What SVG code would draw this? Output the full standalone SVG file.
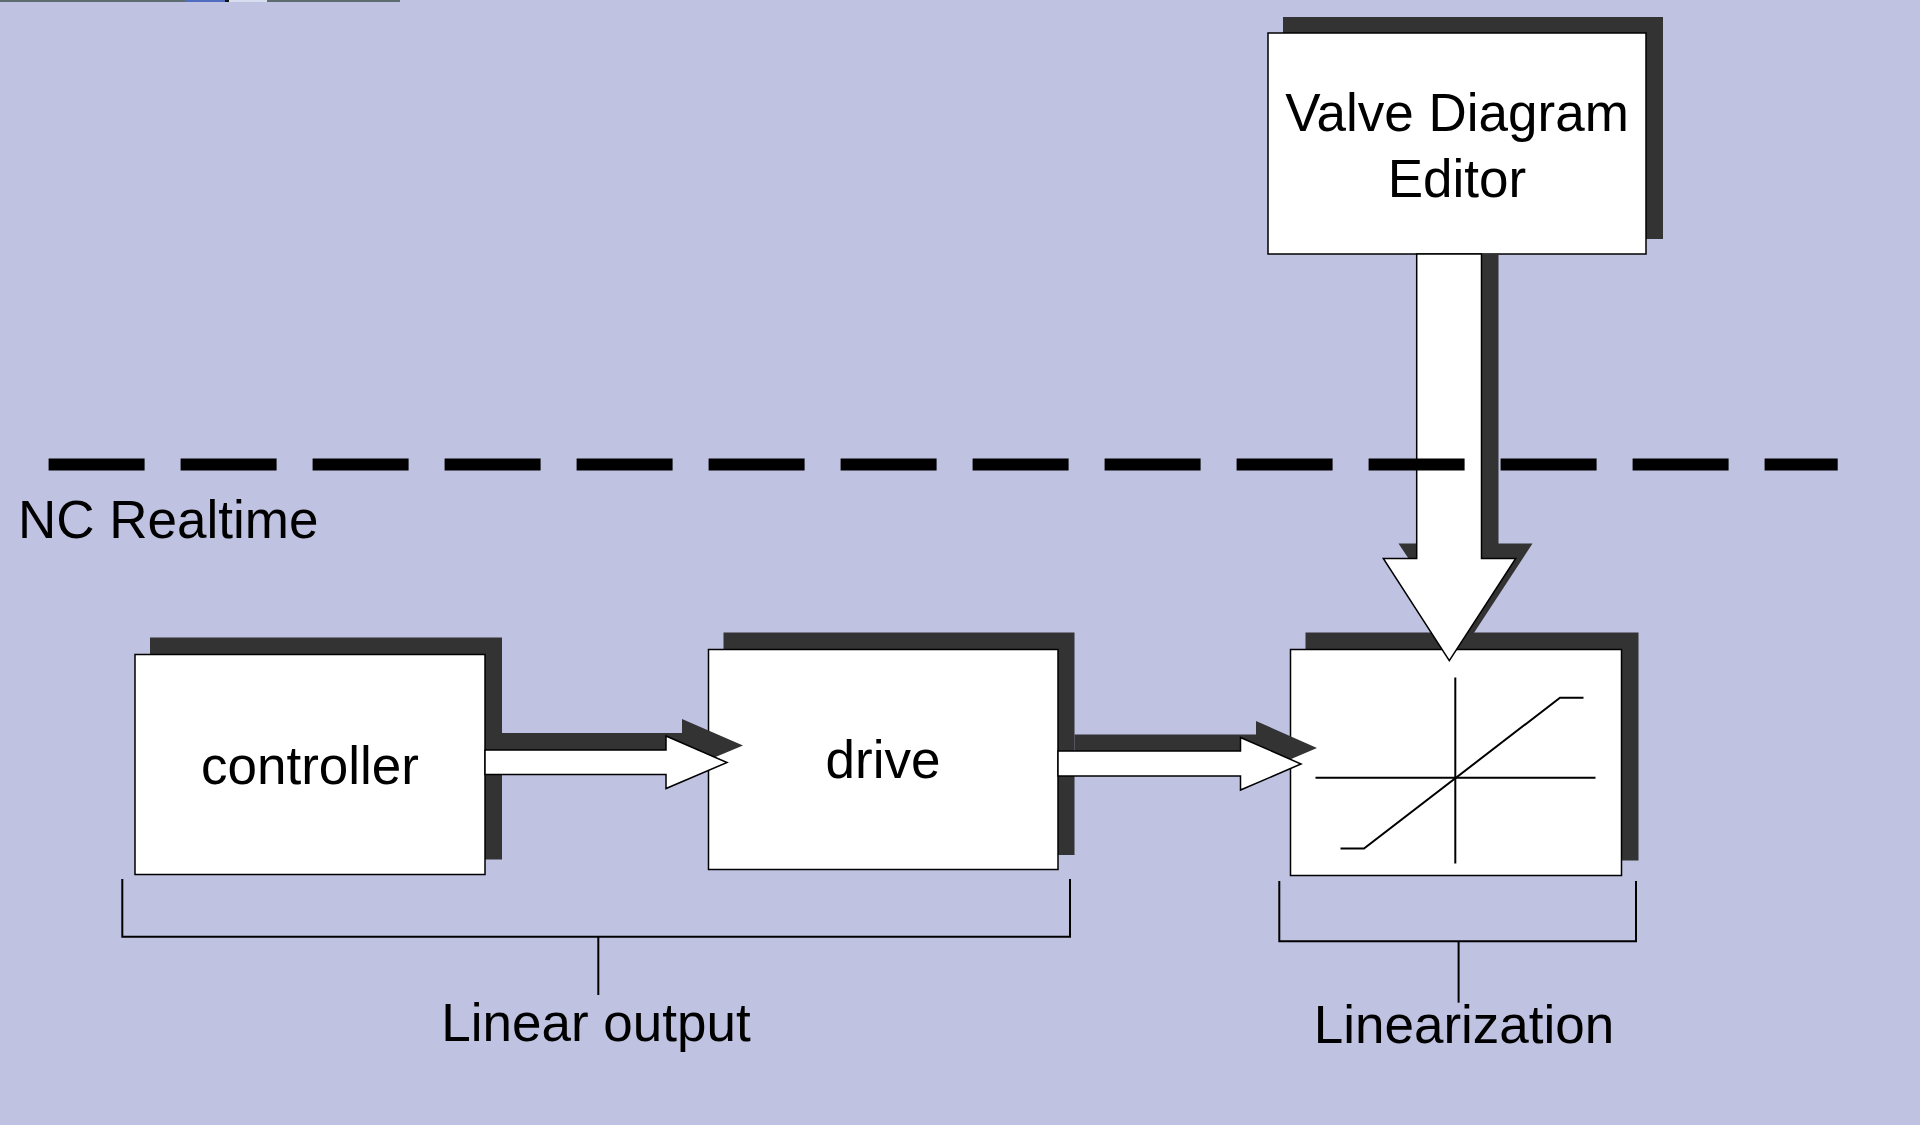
<svg xmlns="http://www.w3.org/2000/svg" width="1920" height="1125" viewBox="0 0 1920 1125">
  <defs>
    <style>
      .bg { fill: #bfc2e0; }
      .shadow { fill: #333333; }
      .box { fill: #ffffff; stroke: #000000; stroke-width: 1.5; }
      .arrow { fill: #ffffff; stroke: #000000; stroke-width: 1.5; stroke-linejoin: miter; }
      .label { font-family: "Liberation Sans", Arial, sans-serif; font-size: 53px; fill: #000000; }
      .mid { text-anchor: middle; }
      .line { fill: none; stroke: #000000; stroke-width: 2; }
      .divider { fill: none; stroke: #000000; stroke-width: 12; stroke-dasharray: 96 36; }
    </style>
  </defs>

  <!-- page background -->
  <rect class="bg" x="0" y="0" width="1920" height="1125"/>

  <!-- thin strip along the top edge -->
  <g id="top-strip">
    <rect x="0" y="0" width="400" height="2" fill="#5d6c70"/>
    <rect x="185" y="0" width="40" height="2" fill="#4f6cc0"/>
    <rect x="225" y="0" width="4" height="2" fill="#111111"/>
    <rect x="229" y="0" width="38" height="2" fill="#d6def0"/>
  </g>

  <!-- Valve Diagram Editor -->
  <g id="valve-editor">
    <rect class="shadow" x="1283" y="17" width="380" height="222"/>
    <rect class="box" x="1268" y="33" width="378" height="221"/>
    <text class="label mid" x="1457" y="131">Valve Diagram</text>
    <text class="label mid" x="1457" y="197">Editor</text>
  </g>

  <!-- controller -->
  <g id="controller">
    <rect class="shadow" x="150" y="637.5" width="352" height="222"/>
    <rect class="box" x="135" y="654.5" width="350" height="220"/>
    <text class="label mid" x="310" y="784">controller</text>
  </g>

  <!-- drive -->
  <g id="drive">
    <rect class="shadow" x="723.5" y="632.5" width="351" height="222.5"/>
    <rect class="box" x="708.5" y="649.5" width="349.5" height="220"/>
    <text class="label mid" x="883" y="778">drive</text>
  </g>

  <!-- linearization block with its characteristic curve -->
  <g id="linearization">
    <rect class="shadow" x="1305.5" y="632.5" width="333" height="228"/>
    <rect class="box" x="1290.5" y="649.5" width="331" height="226"/>
    <line class="line" x1="1315.5" y1="777.7" x2="1595.5" y2="777.7"/>
    <line class="line" x1="1455.3" y1="677.5" x2="1455.3" y2="863.5"/>
    <polyline class="line" points="1340.5,848.5 1364,848.5 1560,697.7 1583.5,697.7"/>
  </g>

  <!-- connectors -->
  <g id="connectors">
    <!-- controller to drive -->
    <polygon class="shadow" points="502,733 682,733 682,719 743,745.5 682,771 682,757 502,757"/>
    <polygon class="arrow" points="485,750 666,750 666,736 727,762.5 666,788.5 666,774.5 485,774.5"/>

    <!-- drive to linearization -->
    <polygon class="shadow" points="1074.5,734.5 1256,734.5 1256,721 1317,748 1256,774 1256,759.5 1074.5,759.5"/>
    <polygon class="arrow" points="1058,751 1240.5,751 1240.5,737.5 1301,764 1240.5,790 1240.5,776 1058,776"/>

    <!-- editor down to linearization -->
    <polygon class="shadow" points="1433.5,254 1498.5,254 1498.5,543.5 1532.5,543.5 1466,645 1398.5,543.5 1433.5,543.5"/>
    <polygon class="arrow" points="1416.7,254 1481.5,254 1481.5,558.5 1515.7,558.5 1449.3,660.7 1383.3,558.5 1416.7,558.5"/>
  </g>

  <!-- realtime boundary -->
  <g id="realtime-boundary">
    <line class="divider" x1="48.6" y1="464.6" x2="1837.7" y2="464.6"/>
    <text class="label" x="18" y="537.5">NC Realtime</text>
  </g>

  <!-- grouping brackets -->
  <g id="bracket-linear-output">
    <polyline class="line" points="122.3,879 122.3,936.7 1070,936.7 1070,879"/>
    <line class="line" x1="598.3" y1="936.7" x2="598.3" y2="995"/>
    <text class="label mid" x="596" y="1041">Linear output</text>
  </g>

  <g id="bracket-linearization">
    <polyline class="line" points="1279.3,881 1279.3,941.3 1636,941.3 1636,881"/>
    <line class="line" x1="1458.6" y1="941.3" x2="1458.6" y2="1002.7"/>
    <text class="label mid" x="1464" y="1043.3">Linearization</text>
  </g>
</svg>
